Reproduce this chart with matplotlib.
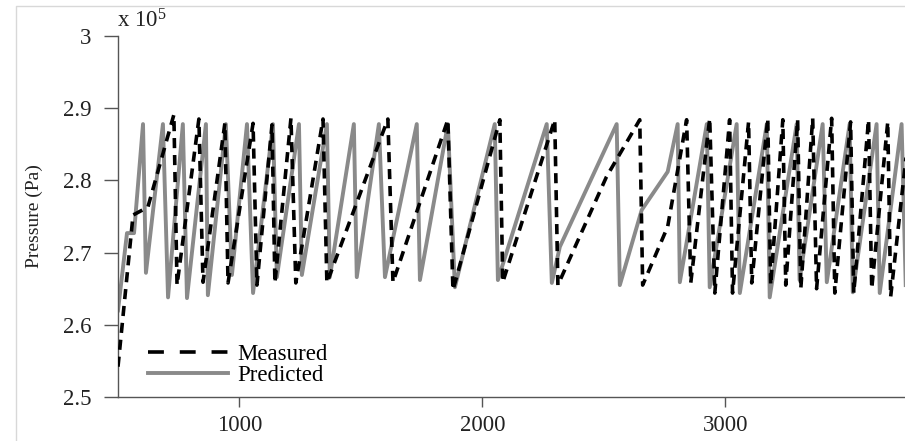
import matplotlib
matplotlib.use("Agg")
import matplotlib.pyplot as plt
from matplotlib.lines import Line2D

# time samples and pressure (x 1e5 Pa)
measured_t = [500, 562, 623, 730, 743, 833, 850, 940, 953, 1056, 1072, 1134, 1146,
              1212, 1232, 1344, 1360, 1611, 1632, 1858, 1879, 2072, 2084, 2298, 2311,
              2511, 2648, 2660, 2763, 2841, 2858, 2936, 2957, 3018, 3030, 3096, 3109,
              3175, 3187, 3237, 3249, 3298, 3311, 3360, 3376, 3438, 3451, 3516, 3529,
              3590, 3603, 3669, 3681, 3760]
measured_p = [2.542, 2.752, 2.763, 2.891, 2.655, 2.885, 2.659, 2.879, 2.658, 2.879, 2.655,
              2.877, 2.658, 2.886, 2.658, 2.885, 2.658, 2.885, 2.659, 2.884, 2.648, 2.884,
              2.659, 2.884, 2.655, 2.805, 2.884, 2.655, 2.736, 2.884, 2.658, 2.886, 2.644,
              2.884, 2.644, 2.881, 2.658, 2.886, 2.655, 2.884, 2.655, 2.884, 2.650, 2.886,
              2.650, 2.886, 2.644, 2.881, 2.644, 2.884, 2.650, 2.881, 2.639, 2.880]

predicted_t = [500, 537, 566, 603, 615, 685, 706, 767, 784, 862, 870, 944, 969, 1031,
               1056, 1138, 1154, 1245, 1257, 1360, 1372, 1471, 1483, 1574, 1599, 1730,
               1743, 1858, 1887, 2051, 2064, 2265, 2286, 2319, 2553, 2566, 2656, 2763,
               2804, 2813, 2924, 2936, 3047, 3060, 3171, 3183, 3294, 3306, 3401, 3418,
               3512, 3525, 3623, 3636, 3726, 3743]
predicted_p = [2.620, 2.727, 2.727, 2.878, 2.672, 2.878, 2.638, 2.878, 2.637, 2.878, 2.641,
               2.878, 2.669, 2.878, 2.644, 2.878, 2.666, 2.878, 2.669, 2.878, 2.666, 2.878,
               2.666, 2.878, 2.666, 2.878, 2.662, 2.878, 2.652, 2.878, 2.662, 2.878, 2.658,
               2.708, 2.878, 2.655, 2.759, 2.812, 2.878, 2.659, 2.878, 2.652, 2.878, 2.644,
               2.878, 2.638, 2.878, 2.662, 2.878, 2.659, 2.878, 2.645, 2.878, 2.644, 2.878,
               2.655]

x_ticks = [1000, 2000, 3000]
y_ticks = [2.5, 2.6, 2.7, 2.8, 2.9, 3.0]
y_tick_labels = ["2.5", "2.6", "2.7", "2.8", "2.9", "3"]

plt.rcParams["font.family"] = ["Liberation Serif", "DejaVu Serif"]
plt.rcParams["mathtext.fontset"] = "custom"
plt.rcParams["mathtext.rm"] = "Liberation Serif"
plt.rcParams["mathtext.it"] = "Liberation Serif:italic"

W, H = 905, 441
fig = plt.figure(figsize=(W / 100, H / 100), dpi=100)
ax = fig.add_axes([118 / W, 1 - 397 / H, (W - 118) / W, (397 - 36) / H])

gray = "#8a8a8a"
ax.plot(measured_t, measured_p, color="black", lw=2.6, ls=(0, (2.8, 1.9)), zorder=3)
ax.plot(predicted_t, predicted_p, color=gray, lw=2.8, zorder=2)

ax.set_xlim(500, 3740)
ax.set_ylim(2.5, 3.0)
ax.set_xticks(x_ticks)
ax.set_xticklabels([str(t) for t in x_ticks])
ax.set_yticks(y_ticks)
ax.set_yticklabels(y_tick_labels)

for side in ["top", "right"]:
    ax.spines[side].set_visible(False)
for side in ["left", "bottom"]:
    ax.spines[side].set_color("#555555")
    ax.spines[side].set_linewidth(1.0)
ax.tick_params(axis="y", direction="out", length=10, width=1, color="#555555",
               pad=9, labelsize=16.5, labelcolor="#222222")
ax.tick_params(axis="x", direction="out", length=7, width=1, color="#555555",
               pad=6, labelsize=16.5, labelcolor="#222222")

ax.set_ylabel("Pressure (Pa)", fontsize=14, color="#222222")
ax.yaxis.set_label_coords((43 - 118) / (W - 118), 0.5)

fig.text(117 / W, 1 - 28 / H, r"x 10$^{5}$", fontsize=16.5, color="#222222",
         ha="left", va="baseline")

handles = [Line2D([], [], color="black", lw=2.6, ls=(0, (4.4, 4.4))),
           Line2D([], [], color=gray, lw=2.8)]
ax.legend(handles, ["Measured", "Predicted"], loc="lower left",
          bbox_to_anchor=(0.038, 0.03), frameon=False, fontsize=16.5,
          handlelength=3.5, handletextpad=0.4, labelspacing=0.0,
          borderpad=0, borderaxespad=0)

# thin page frame around the figure
fig.add_artist(Line2D([16 / W, 16 / W, 1], [0, 1 - 6 / H, 1 - 6 / H],
                      transform=fig.transFigure, color="#d8d8d8", lw=1))

fig.savefig("out.png", dpi=100)
